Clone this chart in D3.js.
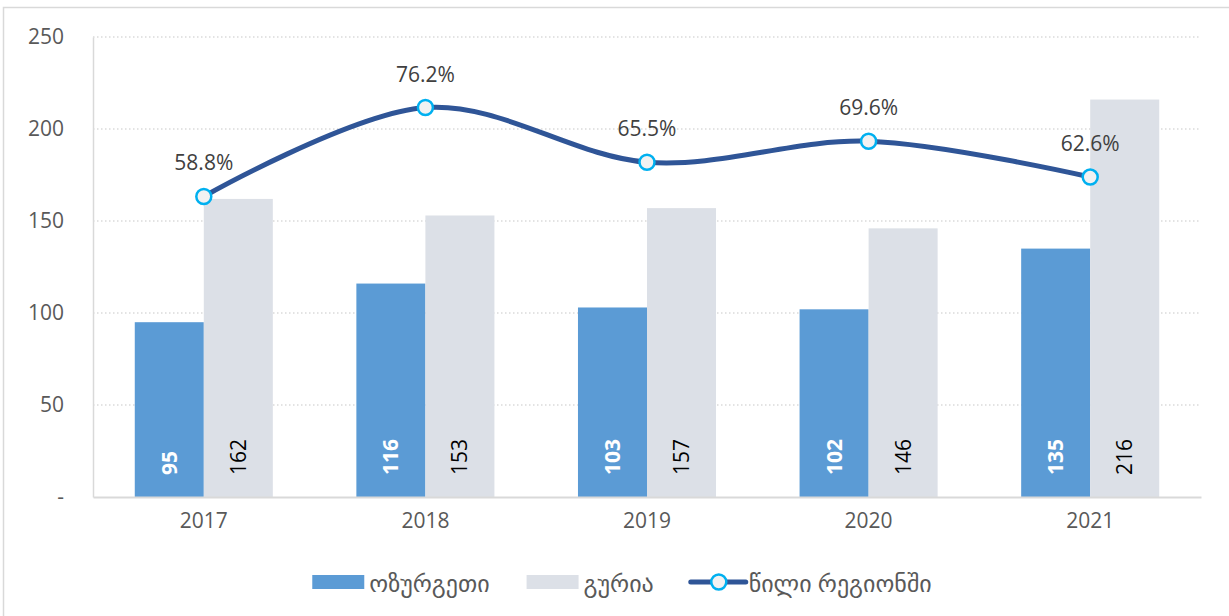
<!DOCTYPE html>
<html>
<head>
<meta charset="utf-8">
<script src="https://cdn.jsdelivr.net/npm/d3@7"></script>
<style>
    body { margin: 0; background: #fff; }
    svg { display: block; font-family: 'Open Sans', 'DejaVu Sans', sans-serif; }
</style>
</head>
<body>
<svg id="chart" width="1229" height="616"></svg>
<script>
const YEARS = ['2017', '2018', '2019', '2020', '2021']
const OZURGETI = [95, 116, 103, 102, 135]
const GURIA = [162, 153, 157, 146, 216]
const SHARE = [0.588, 0.762, 0.655, 0.696, 0.626]
const Y_TICKS = [0, 50, 100, 150, 200, 250]
const SERIES_NAMES = ['ოზურგეთი', 'გურია', 'წილი რეგიონში']

const BLUE = '#5B9BD5'
const GREY = '#DCE0E7'
const LINE = '#2F5597'
const MARKER = '#00B0F0'

let svg = d3.select('#chart')

const PLOT_LEFT = 93, PLOT_RIGHT = 1201, PLOT_TOP = 37, PLOT_BOTTOM = 497

// chart frame
svg.append('rect')
    .attr('x', 3.5).attr('y', 7.5)
    .attr('width', 1250).attr('height', 640)
    .attr('fill', '#fff')
    .attr('stroke', '#D9D9D9')
    .attr('stroke-width', 1.5)

let x = d3.scaleBand()
    .domain(YEARS)
    .range([PLOT_LEFT, PLOT_RIGHT])
    .paddingInner(0.377)
    .paddingOuter(0.1885)

let y = d3.scaleLinear().domain([0, 250]).range([PLOT_BOTTOM, PLOT_TOP])
let y2 = d3.scaleLinear().domain([0, 0.9]).range([PLOT_BOTTOM, PLOT_TOP])

// gridlines
svg.append('g')
    .selectAll('line')
    .data(Y_TICKS.filter(d => d > 0))
    .enter().append('line')
    .attr('x1', PLOT_LEFT).attr('x2', PLOT_RIGHT)
    .attr('y1', d => y(d)).attr('y2', d => y(d))
    .attr('stroke', '#C8C8C8')
    .attr('stroke-width', 1.2)
    .attr('stroke-dasharray', '1.5,2.5')

// y axis
let yAxis = svg.append('g')
    .attr('transform', 'translate(' + PLOT_LEFT + ',0)')
    .call(d3.axisLeft(y).tickValues(Y_TICKS).tickSize(0).tickPadding(29)
        .tickFormat(d => d === 0 ? '-' : d))
    .attr('font-family', null)
yAxis.select('.domain').attr('stroke', '#D9D9D9').attr('stroke-width', 1.5)
yAxis.selectAll('text')
    .attr('fill', '#595959')
    .style('font-size', '21px')

// bars
const half = x.bandwidth() / 2

let groups = svg.append('g')
    .selectAll('g')
    .data(YEARS)
    .enter().append('g')

groups.append('rect')
    .attr('x', d => x(d))
    .attr('y', (d, i) => y(OZURGETI[i]))
    .attr('width', half)
    .attr('height', (d, i) => PLOT_BOTTOM - y(OZURGETI[i]))
    .attr('fill', BLUE)

groups.append('rect')
    .attr('x', d => x(d) + half)
    .attr('y', (d, i) => y(GURIA[i]))
    .attr('width', half)
    .attr('height', (d, i) => PLOT_BOTTOM - y(GURIA[i]))
    .attr('fill', GREY)

// x axis
let xAxis = svg.append('g')
    .attr('transform', 'translate(0,' + PLOT_BOTTOM + ')')
    .call(d3.axisBottom(x).tickSize(0).tickPadding(16))
    .attr('font-family', null)
xAxis.select('.domain').attr('stroke', '#D9D9D9').attr('stroke-width', 2)
xAxis.selectAll('text')
    .attr('fill', '#595959')
    .style('font-size', '21px')

// value labels inside bars
groups.append('text')
    .attr('transform', d => 'translate(' + (x(d) + half / 2) + ',' + (PLOT_BOTTOM - 22) + ') rotate(-90)')
    .attr('dy', '0.36em')
    .attr('fill', '#fff')
    .style('font-size', '21px')
    .style('font-weight', 'bold')
    .text((d, i) => OZURGETI[i])

groups.append('text')
    .attr('transform', d => 'translate(' + (x(d) + half * 1.5) + ',' + (PLOT_BOTTOM - 22) + ') rotate(-90)')
    .attr('dy', '0.36em')
    .attr('fill', '#000')
    .style('font-size', '21px')
    .text((d, i) => GURIA[i])

// share line
const cx = d => x(d) + half

let line = d3.line()
    .x(d => cx(d))
    .y((d, i) => y2(SHARE[i]))
    .curve(d3.curveCardinal.tension(0))

svg.append('path')
    .datum(YEARS)
    .attr('d', line)
    .attr('fill', 'none')
    .attr('stroke', LINE)
    .attr('stroke-width', 5)

svg.append('g')
    .selectAll('circle')
    .data(YEARS)
    .enter().append('circle')
    .attr('cx', d => cx(d))
    .attr('cy', (d, i) => y2(SHARE[i]))
    .attr('r', 7.5)
    .attr('fill', '#F2F2F2')
    .attr('stroke', MARKER)
    .attr('stroke-width', 2.5)

svg.append('g')
    .selectAll('text')
    .data(YEARS)
    .enter().append('text')
    .attr('x', d => cx(d))
    .attr('y', (d, i) => y2(SHARE[i]) - 26)
    .attr('text-anchor', 'middle')
    .attr('fill', '#404040')
    .style('font-size', '21px')
    .text((d, i) => d3.format('.1%')(SHARE[i]))

// legend
const LEGEND_Y = 582
const LEGEND_GAP = 37
let legend = svg.append('g')
let lx = 0

SERIES_NAMES.forEach((name, i) => {
    let item = legend.append('g').attr('transform', 'translate(' + lx + ',0)')
    if (i < 2) {
        item.append('rect')
            .attr('x', 0).attr('y', LEGEND_Y - 7)
            .attr('width', 52).attr('height', 14)
            .attr('fill', i === 0 ? BLUE : GREY)
    } else {
        item.append('line')
            .attr('x1', 0).attr('x2', 55)
            .attr('y1', LEGEND_Y).attr('y2', LEGEND_Y)
            .attr('stroke', LINE).attr('stroke-width', 5)
            .attr('stroke-linecap', 'round')
        item.append('circle')
            .attr('cx', 28).attr('cy', LEGEND_Y).attr('r', 7.5)
            .attr('fill', '#F2F2F2').attr('stroke', MARKER).attr('stroke-width', 2.5)
    }
    let t = item.append('text')
        .attr('x', i < 2 ? 57 : 58)
        .attr('y', LEGEND_Y + 10)
        .attr('fill', '#595959')
        .style('font-size', '24px')
        .text(name)
    lx += (i < 2 ? 57 : 58) + t.node().getComputedTextLength() + LEGEND_GAP
})

let lw = lx - LEGEND_GAP
legend.attr('transform', 'translate(' + (622 - lw / 2) + ',0)')
</script>
</body>
</html>
